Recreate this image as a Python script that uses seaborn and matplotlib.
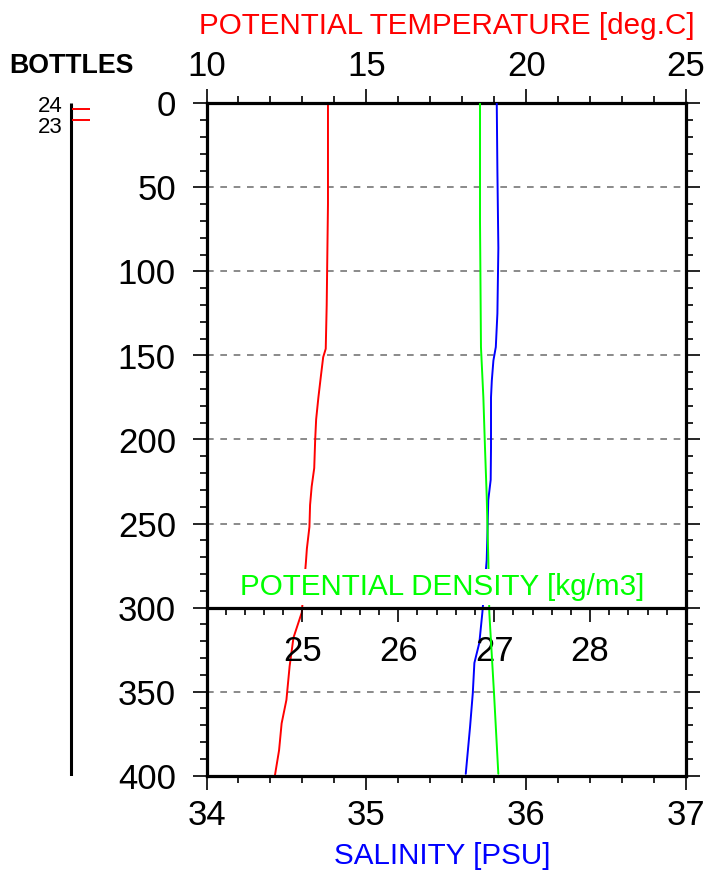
import matplotlib
matplotlib.use("Agg")
import matplotlib.pyplot as plt
import seaborn as sns
from matplotlib.ticker import MultipleLocator

# ---------------- data ----------------
temp_depth = [0, 60, 90, 120, 146, 151, 162, 175, 188, 200, 217, 228, 239, 252, 265, 273,
              303, 318, 335, 355, 369, 385, 400]
temperature = [13.80, 13.80, 13.78, 13.76, 13.73, 13.65, 13.58, 13.50, 13.43, 13.40, 13.37,
               13.29, 13.24, 13.22, 13.14, 13.11, 12.98, 12.72, 12.60, 12.50, 12.35, 12.27, 12.14]

sal_depth = [0, 40, 86, 125, 145, 153, 165, 175, 205, 224, 236, 255, 272, 303, 321, 333,
             351, 371, 399]
salinity = [35.816, 35.820, 35.826, 35.820, 35.810, 35.795, 35.785, 35.780, 35.780, 35.778,
            35.763, 35.758, 35.753, 35.726, 35.707, 35.676, 35.666, 35.649, 35.622]

dens_depth = [0, 70, 145, 175, 205, 234, 272, 303, 351, 399]
density = [26.852, 26.852, 26.862, 26.887, 26.904, 26.922, 26.939, 26.949, 26.998, 27.043]

bottle_ids = ["24", "23"]
bottle_depths = [3.5, 10.0]

temp_ticks = [10, 15, 20, 25]
sal_ticks = [34, 35, 36, 37]
dens_ticks = [25, 26, 27, 28]
depth_ticks = list(range(0, 401, 50))

# ---------------- style ----------------
sns.set_style("white")
plt.rcParams["font.family"] = ["Liberation Sans", "DejaVu Sans"]
for key in ("text.color", "axes.labelcolor", "xtick.color", "ytick.color"):
    plt.rcParams[key] = "black"

W, H = 709, 871
fig = plt.figure(figsize=(W / 100, H / 100), dpi=100)

L, R, T, B = 206.5, 686.0, 103.5, 775.5
ax = fig.add_axes([L / W, 1 - B / H, (R - L) / W, (B - T) / H])
ax_s = ax.twiny()
ax_d = ax.twiny()

SPW = 2.3
TICKW = 1.2
LW = 1.4
TFS = 25

# lines
sns.lineplot(x=temperature, y=temp_depth, ax=ax, color="#ff0000", lw=LW,
             sort=False, estimator=None)
sns.lineplot(x=salinity, y=sal_depth, ax=ax_s, color="#0000ff", lw=LW,
             sort=False, estimator=None)
sns.lineplot(x=density, y=dens_depth, ax=ax_d, color="#00ff00", lw=LW,
             sort=False, estimator=None)

for a in (ax, ax_s, ax_d):
    a.set_xlabel("")
    a.set_ylabel("")

# main axis: temperature (top) + depth
ax.set_ylim(400, 0)
ax.set_xlim(10, 25)
ax.set_xticks(temp_ticks)
ax.xaxis.set_minor_locator(MultipleLocator(1))
ax.set_yticks(depth_ticks)
ax.yaxis.set_minor_locator(MultipleLocator(10))
ax.xaxis.set_ticks_position("top")
ax.tick_params(axis="x", which="both", top=True, bottom=False, labeltop=True,
               labelbottom=False, direction="out", color="black", labelcolor="black")
ax.tick_params(axis="x", which="major", length=10, width=TICKW, labelsize=TFS, pad=5)
ax.tick_params(axis="x", which="minor", length=5, width=TICKW)
ax.tick_params(axis="y", which="both", left=True, right=True, labelleft=True,
               labelright=False, direction="out", color="black", labelcolor="black")
ax.tick_params(axis="y", which="major", length=10, width=TICKW, labelsize=TFS, pad=12)
ax.tick_params(axis="y", which="minor", length=5, width=TICKW)
ax.grid(axis="y", which="major", color="#777777", linestyle=(0, (4.0, 4.0)), linewidth=1.2)
ax.grid(axis="x", visible=False)
for s in ax.spines.values():
    s.set_visible(True)
    s.set_color("black")
    s.set_linewidth(SPW)

# salinity (bottom)
ax_s.set_xlim(34, 37)
ax_s.set_xticks(sal_ticks)
ax_s.xaxis.set_minor_locator(MultipleLocator(0.2))
ax_s.xaxis.set_ticks_position("bottom")
ax_s.tick_params(axis="x", which="both", top=False, bottom=True, labeltop=False,
                 labelbottom=True, direction="out", color="black", labelcolor="black")
ax_s.tick_params(axis="x", which="major", length=10, width=TICKW, labelsize=TFS, pad=7)
ax_s.tick_params(axis="x", which="minor", length=5, width=TICKW)
ax_s.grid(False)
for k, s in ax_s.spines.items():
    s.set_visible(False)

# density (axis drawn at depth 300)
ax_d.set_xlim(24, 29)
ax_d.set_xticks(dens_ticks)
ax_d.xaxis.set_minor_locator(MultipleLocator(0.2))
ax_d.xaxis.set_ticks_position("bottom")
ax_d.spines["bottom"].set_position(("data", 300))
ax_d.tick_params(axis="x", which="both", top=False, bottom=True, labeltop=False,
                 labelbottom=True, direction="out", color="black", labelcolor="black")
ax_d.tick_params(axis="x", which="major", length=10, width=TICKW, labelsize=TFS, pad=10)
ax_d.tick_params(axis="x", which="minor", length=5, width=TICKW)
ax_d.grid(False)
for k, s in ax_d.spines.items():
    s.set_visible(k == "bottom")
ax_d.spines["bottom"].set_color("black")
ax_d.spines["bottom"].set_linewidth(SPW)

# titles
def px(x, y):
    return x / W, 1 - y / H

fig.text(*px(447, 33.5), "POTENTIAL TEMPERATURE [deg.C]", color="#ff0000", fontsize=21.3,
         ha="center", va="baseline")
fig.text(*px(442.5, 864), "SALINITY [PSU]", color="#0000ff", fontsize=21.3,
         ha="center", va="baseline")
fig.text(*px(442.5, 595), "POTENTIAL DENSITY [kg/m3]", color="#00ff00", fontsize=21.3,
         ha="center", va="baseline", zorder=10,
         bbox=dict(boxstyle="square,pad=0.12", fc="white", ec="none"))
fig.text(*px(71.5, 73), "BOTTLES", color="black", fontsize=19.3, fontweight="bold",
         ha="center", va="baseline")

# bottles axis
ax_b = fig.add_axes([50 / W, 1 - B / H, 50 / W, (B - T) / H])
ax_b.set_xlim(0, 50)
ax_b.set_ylim(400, 0)
ax_b.axis("off")
ax_b.plot([21, 21], [0, 400], color="black", lw=2.2, solid_capstyle="butt")
ax_b.hlines(bottle_depths, 22, 40, color="#ff0000", lw=1.4)
label_offsets = [-2.0, -9.2]
for bid, d, off in zip(bottle_ids, bottle_depths, label_offsets):
    ax_b.annotate(bid, xy=(13, d), xytext=(0, off), textcoords="offset points",
                  ha="right", va="baseline", fontsize=16, color="black",
                  annotation_clip=False)

fig.savefig("out.png", dpi=100)
